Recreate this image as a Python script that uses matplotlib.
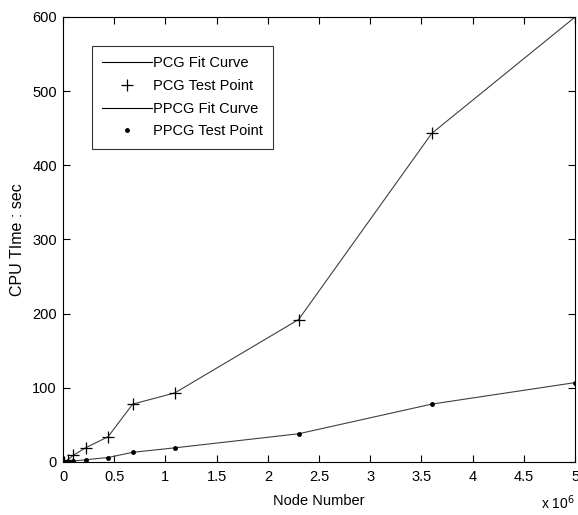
import matplotlib
matplotlib.use("Agg")
import matplotlib.pyplot as plt
from matplotlib.lines import Line2D

plt.rcParams['font.family'] = ['Liberation Sans', 'DejaVu Sans']

# Data (node count in units of 1e6, CPU time in seconds)
nodes = [0.01, 0.05, 0.1, 0.22, 0.44, 0.68, 1.09, 2.3, 3.6, 5.0]
pcg_time = [0.5, 3, 9, 19, 34, 78, 93, 192, 443, 600]
ppcg_time = [0, 0.5, 1.2, 3, 6, 13, 19, 38, 78, 107]

fig = plt.figure(figsize=(5.78, 5.15), dpi=100)
ax = fig.add_axes([0.109, 0.103, 0.886, 0.864])

ax.plot(nodes, pcg_time, color='#404040', lw=0.8)
ax.plot(nodes, pcg_time, ls='none', marker='+', ms=8, mew=0.9, color='black')
ax.plot(nodes, ppcg_time, color='#404040', lw=0.8)
ax.plot(nodes, ppcg_time, ls='none', marker='.', ms=5, color='black')

ax.set_xlim(0, 5)
ax.set_ylim(0, 600)
ax.set_xticks([0, 0.5, 1, 1.5, 2, 2.5, 3, 3.5, 4, 4.5, 5])
ax.set_xticklabels(['0', '0.5', '1', '1.5', '2', '2.5', '3', '3.5', '4', '4.5', '5'])
ax.set_yticks(range(0, 601, 100))
ax.tick_params(direction='in', top=True, right=True, length=5, width=0.8,
               labelsize=10.5)
ax.tick_params(axis='x', pad=6)
ax.tick_params(axis='y', pad=4.5)
for s in ax.spines.values():
    s.set_linewidth(0.8)

ax.set_xlabel('Node Number', fontsize=10.5, labelpad=7)
ax.set_ylabel('CPU TIme : sec', fontsize=11.5, labelpad=5)
# exponent label sits under the right end of the x axis
fig.text(0.995, 0.006, r'x 10$^6$', ha='right', va='bottom', fontsize=10)

handles = [
    Line2D([], [], color='black', lw=0.8),
    Line2D([], [], ls='none', marker='+', ms=8, mew=0.9, color='black'),
    Line2D([], [], color='black', lw=0.8),
    Line2D([], [], ls='none', marker='.', ms=5, color='black'),
]
labels = ['PCG Fit Curve', 'PCG Test Point', 'PPCG Fit Curve', 'PPCG Test Point']
leg = ax.legend(handles, labels, loc='upper left', bbox_to_anchor=(0.057, 0.935),
                fontsize=10.5, frameon=True, fancybox=False, edgecolor='black',
                borderpad=0.7, labelspacing=0.6, handlelength=3.4,
                handletextpad=0.05, borderaxespad=0)
leg.get_frame().set_linewidth(0.8)

fig.savefig('out.png', dpi=100)
